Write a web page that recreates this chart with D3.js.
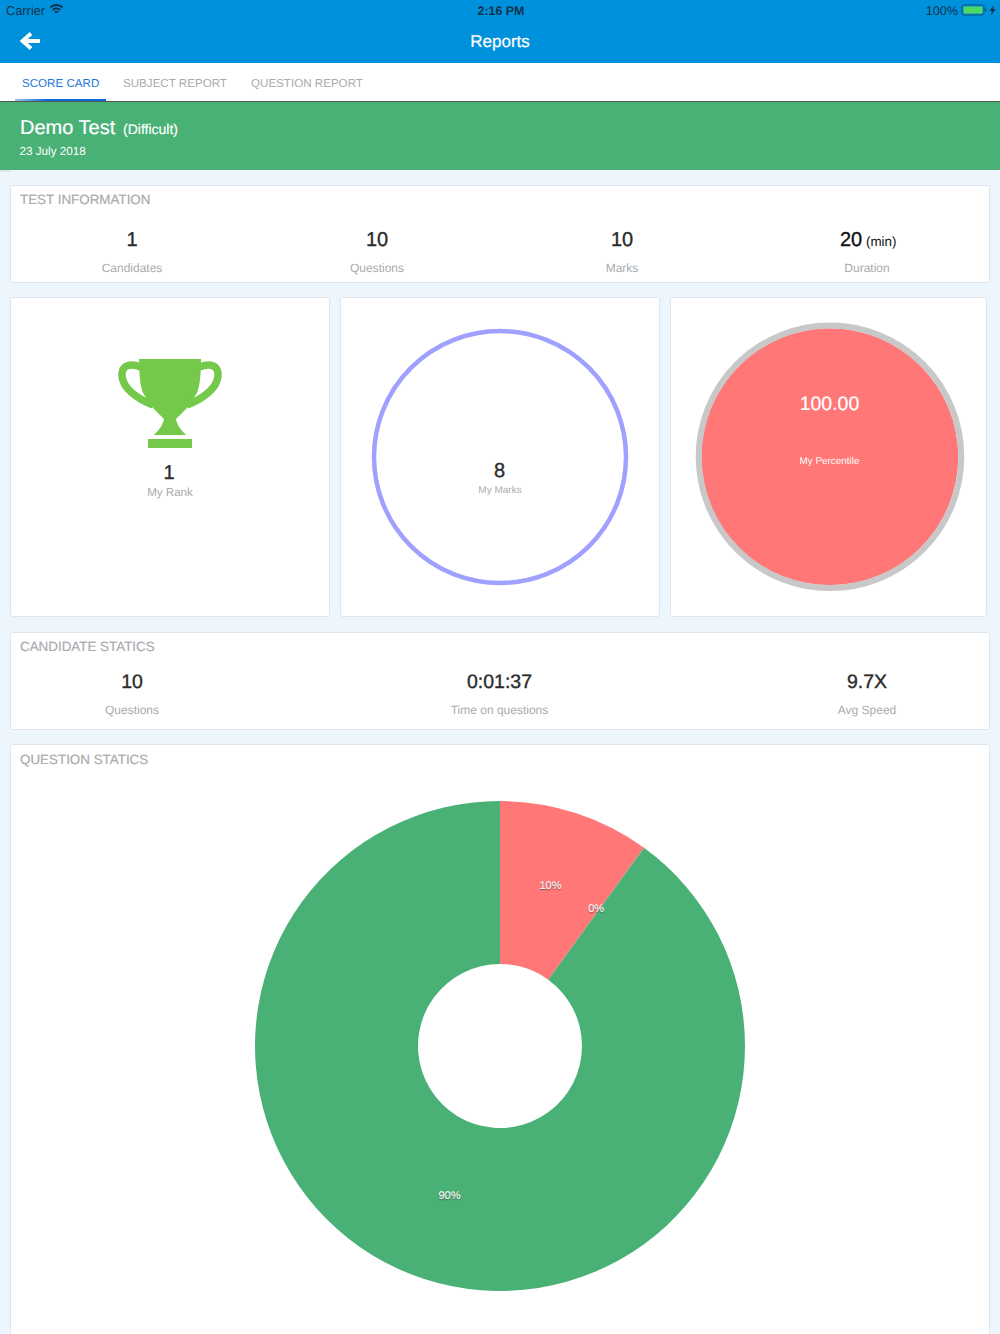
<!DOCTYPE html>
<html>
<head>
<meta charset="utf-8">
<script src="https://cdn.jsdelivr.net/npm/d3@7"></script>
<style>
  html, body { margin: 0; padding: 0; background: #eef6fd; }
  svg { display: block; }
  text { font-family: "Liberation Sans", Arial, sans-serif; text-rendering: geometricPrecision; }
</style>
</head>
<body>
<div id="chart"></div>
<script>
const pieLabels = ["10%", "0%", "90%"];
const pieValues = [10, 0, 90];
const pieColors = ["#ff7777", "#ffce56", "#4ab176"];

const tabNames = ["SCORE CARD", "SUBJECT REPORT", "QUESTION REPORT"];
const testValues = ["1", "10", "10", "20"];
const testLabels = ["Candidates", "Questions", "Marks", "Duration"];
const candidateValues = ["10", "0:01:37", "9.7X"];
const candidateLabels = ["Questions", "Time on questions", "Avg Speed"];

const w = 1000;
const h = 1334;
const blue = "#0091dc";
const green = "#4ab176";
const red = "#ff7777";
const dark = "#2b2b2b";
const grey = "#a9abae";

const svg = d3.select("#chart")
    .append("svg")
    .attr("width", w)
    .attr("height", h);

const label = (x, y, str, size, fill, anchor = "middle", weight = "normal") =>
    svg.append("text")
        .attr("x", x)
        .attr("y", y)
        .attr("font-size", size)
        .attr("fill", fill)
        .attr("text-anchor", anchor)
        .attr("font-weight", weight)
        .text(str);

// medium weight look, the installed fonts only have regular and bold
const medium = (sel, amount) => sel.attr("stroke", sel.attr("fill")).attr("stroke-width", amount);

const card = (x, y, cw, ch) =>
    svg.append("rect")
        .attr("x", x + 0.5)
        .attr("y", y + 0.5)
        .attr("width", cw - 1)
        .attr("height", ch - 1)
        .attr("rx", 2)
        .attr("fill", "#fff")
        .attr("stroke", "#dfe5ea");

// header
svg.append("rect").attr("width", w).attr("height", 63).attr("fill", blue);
label(6, 14.5, "Carrier", 12.8, "#12324a", "start");
label(501, 15, "2:16 PM", 12.4, "#12324a", "middle", "bold");
label(958, 15, "100%", 12.6, "#12324a", "end");

// wifi
[10, 6.6, 3.2].forEach(r => {
    svg.append("path")
        .attr("transform", "translate(56.5,14)")
        .attr("d", d3.arc()({ innerRadius: r - 2.1, outerRadius: r, startAngle: -0.75, endAngle: 0.75 }))
        .attr("fill", "#12324a");
});

// battery
svg.append("rect").attr("x", 962).attr("y", 5).attr("width", 22).attr("height", 10).attr("rx", 2)
    .attr("fill", "none").attr("stroke", "#12527a");
svg.append("rect").attr("x", 963.5).attr("y", 6.5).attr("width", 19).attr("height", 7).attr("fill", "#4cd964");
svg.append("path").attr("d", "M985,8.5h1.5v3h-1.5z").attr("fill", "#12527a");
svg.append("path").attr("d", "M994,5L989.5,11h2.5L991,15.500L995.500,9h-2.500z").attr("fill", "#12324a");

// back arrow
svg.append("path")
    .attr("d", "M40,41H23M31,33.500L22.500,41L31,48.500")
    .attr("fill", "none")
    .attr("stroke", "#fff")
    .attr("stroke-width", 3.8);
medium(label(500, 47, "Reports", 17, "#fff"), 0.2);

// tabs
svg.append("rect").attr("y", 63).attr("width", w).attr("height", 38).attr("fill", "#fff");
[[22, "#1e78d8"], [123, grey], [251, grey]].forEach(([x, col], i) => {
    label(x, 87, tabNames[i], 11.6, col, "start");
});
const grad = svg.append("defs").append("linearGradient").attr("id", "tabline");
grad.append("stop").attr("offset", "0").attr("stop-color", "#9cc4ee");
grad.append("stop").attr("offset", "0.35").attr("stop-color", "#0a6be0");
svg.append("rect").attr("x", 15).attr("y", 99).attr("width", 91).attr("height", 2.5).attr("fill", "url(#tabline)");
svg.append("rect").attr("y", 101).attr("width", w).attr("height", 1).attr("fill", "#555");

// green banner
svg.append("rect").attr("y", 102).attr("width", w).attr("height", 68).attr("fill", green);
svg.append("rect").attr("y", 170).attr("width", 10).attr("height", 2).attr("fill", "#dfe5ea");
medium(label(20, 134, "Demo Test", 20, "#fff", "start"), 0.2);
medium(label(123, 134, "(Difficult)", 14, "#fff", "start"), 0.15);
label(19.500, 155, "23 July 2018", 11.7, "#fff", "start");

// test information
card(10, 185, 980, 98);
medium(label(20, 204, "TEST INFORMATION", 13.4, grey, "start"), 0.2);
const testX = d3.scalePoint().domain(testLabels).range([132, 867]);
testLabels.forEach((d, i) => {
    if (i < 3) medium(label(testX(d), 246, testValues[i], 20, dark), 0.35);
    label(testX(d), 272, d, 12, grey);
});
medium(label(840, 246, testValues[3], 20, "#111", "start"), 0.35);
label(866, 246, "(min)", 13.4, "#111", "start");

// three tiles
card(10, 297, 320, 320);
card(340, 297, 320, 320);
card(670, 297, 317, 320);

// trophy
const trophy = "#74c94b";
svg.append("path")
    .attr("d", "M139,359H201C201,378 199,392 195,396C192,402 189,406 187,408L176,419C177,425 181,430 186,435H154C159,430 163,425 164,419L153,408C151,406 148,402 145,396C141,392 139,378 139,359Z")
    .attr("fill", trophy);
svg.append("path")
    .attr("d", "M141,367C127,362 121.500,367 122,376C123,389 138,399 153,405M199,367C213,362 218.500,367 218,376C217,389 202,399 187,405")
    .attr("fill", "none")
    .attr("stroke", trophy)
    .attr("stroke-width", 7.5);
svg.append("rect").attr("x", 148).attr("y", 439).attr("width", 44).attr("height", 9).attr("fill", trophy);
medium(label(169, 479, "1", 20, dark), 0.35);
label(170, 496, "My Rank", 11.6, grey);

// my marks ring
svg.append("circle").attr("cx", 500).attr("cy", 457).attr("r", 126)
    .attr("fill", "#fff").attr("stroke", "#a0a0ff").attr("stroke-width", 4.5);
medium(label(499.5, 477, "8", 20, dark), 0.35);
label(500, 493, "My Marks", 10, grey);

// percentile
svg.append("circle").attr("cx", 829.8).attr("cy", 456.8).attr("r", 128.5)
    .attr("fill", red);
svg.append("circle").attr("cx", 830).attr("cy", 456.8).attr("r", 131.3)
    .attr("fill", "none").attr("stroke", "#c8c8c8").attr("stroke-width", 6);
medium(label(829.500, 410, "100.00", 19.500, "#fff"), 0.2);
label(829.500, 464, "My Percentile", 9.9, "#fff");

// candidate statics
card(10, 632, 980, 98);
medium(label(20, 651, "CANDIDATE STATICS", 13.4, grey, "start"), 0.2);
const candX = d3.scalePoint().domain(candidateLabels).range([132, 867]);
candidateLabels.forEach((d, i) => {
    medium(label(candX(d), 688, candidateValues[i], 19.5, dark), 0.35);
    label(candX(d), 714, d, 12, grey);
});

// question statics
card(10, 744, 980, 600);
medium(label(20, 764, "QUESTION STATICS", 13.4, grey, "start"), 0.2);

const cx = 500;
const cy = 1046;
const outer = 245;
const inner = 82;

const pie = d3.pie().sort(null).value(d => d);
const arc = d3.arc().innerRadius(inner).outerRadius(outer);
const arcs = pie(pieValues);

const pieG = svg.append("g").attr("transform", `translate(${cx}, ${cy})`);

pieG.selectAll("path")
    .data(arcs)
    .enter()
    .append("path")
    .attr("d", arc)
    .attr("fill", (d, i) => pieColors[i]);

pieG.selectAll("text")
    .data(arcs)
    .enter()
    .append("text")
    .attr("x", d => arc.centroid(d)[0])
    .attr("y", d => arc.centroid(d)[1] - 2)
    .attr("text-anchor", "middle")
    .attr("font-size", 11)
    .attr("fill", "#fff")
    .attr("stroke", "#fff")
    .attr("stroke-width", 0.2)
    .style("text-shadow", "0 1px 1px rgba(0,0,0,0.4)")
    .text((d, i) => pieLabels[i]);
</script>
</body>
</html>
